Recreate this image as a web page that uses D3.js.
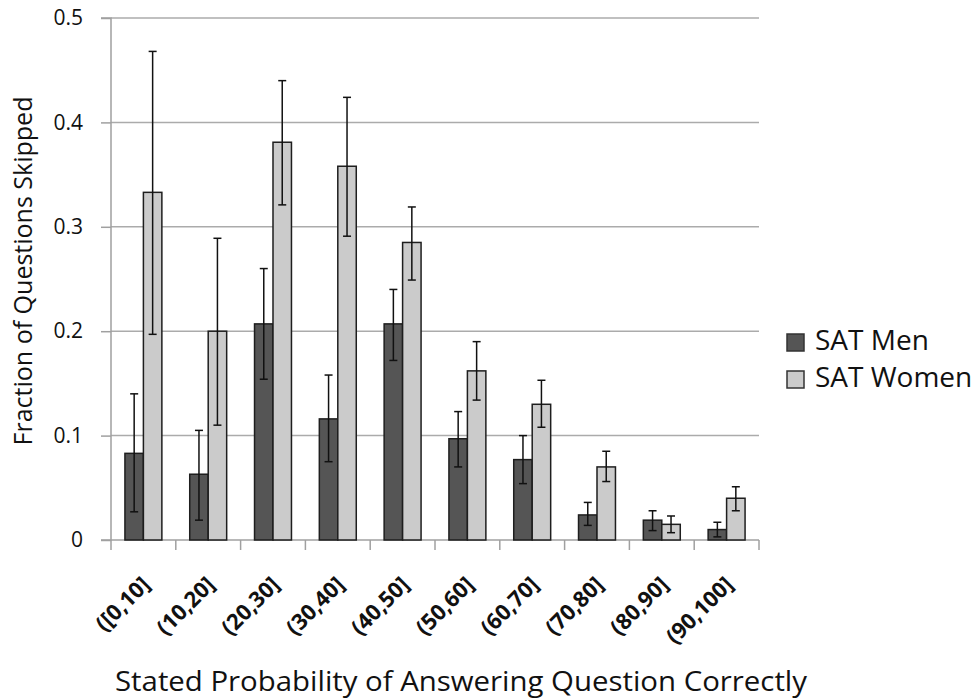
<!DOCTYPE html>
<html>
<head>
<meta charset="utf-8">
<script src="https://cdn.jsdelivr.net/npm/d3@7"></script>
<style>
  body { margin: 0; background: #fff; }
  text { font-family: "Open Sans", sans-serif; fill: #111; }
</style>
</head>
<body>
<script>
let w = 980;
let h = 698;

let categories = ['([0,10]', '(10,20]', '(20,30]', '(30,40]', '(40,50]',
  '(50,60]', '(60,70]', '(70,80]', '(80,90]', '(90,100]'];
let seriesNames = ['SAT Men', 'SAT Women'];
let menValues = [0.083, 0.063, 0.207, 0.116, 0.207, 0.097, 0.077, 0.024, 0.019, 0.010];
let menLow = [0.027, 0.019, 0.154, 0.075, 0.172, 0.070, 0.054, 0.014, 0.009, 0.003];
let menHigh = [0.140, 0.105, 0.260, 0.158, 0.240, 0.123, 0.100, 0.036, 0.028, 0.017];
let womenValues = [0.333, 0.200, 0.381, 0.358, 0.285, 0.162, 0.130, 0.070, 0.015, 0.040];
let womenLow = [0.197, 0.110, 0.321, 0.291, 0.249, 0.134, 0.108, 0.056, 0.007, 0.028];
let womenHigh = [0.468, 0.289, 0.440, 0.424, 0.319, 0.190, 0.153, 0.085, 0.023, 0.051];
let yTicks = [0, 0.1, 0.2, 0.3, 0.4, 0.5];
let colors = ['#555555', '#cbcbcb'];

let plotLeft = 111, plotRight = 759, plotTop = 18, plotBottom = 540;

let rows = categories.map((c, i) => ({
  cat: c,
  vals: [
    { s: 0, v: menValues[i], lo: menLow[i], hi: menHigh[i] },
    { s: 1, v: womenValues[i], lo: womenLow[i], hi: womenHigh[i] }
  ]
}));

let x0 = d3.scaleBand()
  .domain(categories)
  .range([plotLeft, plotRight])
  .paddingInner(0.43)
  .paddingOuter(0.215);

let x1 = d3.scaleBand()
  .domain([0, 1])
  .range([0, x0.bandwidth()]);

let yScale = d3.scaleLinear()
  .domain([0, 0.5])
  .range([plotBottom, plotTop]);

let svg = d3.select('body')
  .append('svg')
  .attr('width', w)
  .attr('height', h);

// gridlines
svg.append('g')
  .selectAll('line')
  .data(yTicks.slice(1))
  .enter()
  .append('line')
  .attr('x1', plotLeft)
  .attr('x2', plotRight)
  .attr('y1', (d) => yScale(d))
  .attr('y2', (d) => yScale(d))
  .attr('stroke', '#ababab')
  .attr('stroke-width', 1.5);

let yAxis = d3.axisLeft(yScale)
  .tickValues(yTicks)
  .tickFormat((d) => d === 0 ? '0' : d3.format('.1f')(d))
  .tickSize(10)
  .tickPadding(18);

let yg = svg.append('g')
  .attr('transform', 'translate(' + plotLeft + ',0)')
  .call(yAxis);
yg.selectAll('line, path').attr('stroke', '#a0a0a0').attr('stroke-width', 1.5);
yg.select('.domain').attr('d', 'M-10,' + plotTop + 'H0V' + plotBottom + 'H-10');
yg.selectAll('text')
  .style('font-size', '21px')
  .attr('fill', '#111');

// x axis with ticks at category boundaries
let boundaries = d3.range(categories.length + 1).map((i) => plotLeft + i * x0.step());
svg.append('line')
  .attr('x1', plotLeft).attr('x2', plotRight)
  .attr('y1', plotBottom).attr('y2', plotBottom)
  .attr('stroke', '#a0a0a0').attr('stroke-width', 1.5);
svg.append('g')
  .selectAll('line')
  .data(boundaries)
  .enter()
  .append('line')
  .attr('x1', (d) => d).attr('x2', (d) => d)
  .attr('y1', plotBottom).attr('y2', plotBottom + 10)
  .attr('stroke', '#a0a0a0').attr('stroke-width', 1.5);

svg.append('g')
  .selectAll('text')
  .data(categories)
  .enter()
  .append('text')
  .attr('transform', (d) => 'translate(' + (x0(d) + x0.bandwidth() / 2 + 8) + ',' + (plotBottom + 46) + ') rotate(-45)')
  .attr('text-anchor', 'end')
  .style('font-size', '22px')
  .style('font-weight', 'bold')
  .text((d) => d);

// bars
let groups = svg.append('g')
  .selectAll('g')
  .data(rows)
  .enter()
  .append('g')
  .attr('transform', (d) => 'translate(' + x0(d.cat) + ',0)');

groups.selectAll('rect')
  .data((d) => d.vals)
  .enter()
  .append('rect')
  .attr('x', (d) => x1(d.s))
  .attr('y', (d) => yScale(d.v))
  .attr('width', x1.bandwidth())
  .attr('height', (d) => yScale(0) - yScale(d.v))
  .attr('fill', (d) => colors[d.s])
  .attr('stroke', '#1e1e1e')
  .attr('stroke-width', 1.5);

// error bars
let err = groups.selectAll('g.err')
  .data((d) => d.vals)
  .enter()
  .append('g')
  .attr('class', 'err')
  .attr('stroke', '#111')
  .attr('stroke-width', 1.5);

err.append('line')
  .attr('x1', (d) => x1(d.s) + x1.bandwidth() / 2)
  .attr('x2', (d) => x1(d.s) + x1.bandwidth() / 2)
  .attr('y1', (d) => yScale(d.lo))
  .attr('y2', (d) => yScale(d.hi));
['lo', 'hi'].forEach((k) => {
  err.append('line')
    .attr('x1', (d) => x1(d.s) + x1.bandwidth() / 2 - 4)
    .attr('x2', (d) => x1(d.s) + x1.bandwidth() / 2 + 4)
    .attr('y1', (d) => yScale(d[k]))
    .attr('y2', (d) => yScale(d[k]));
});

// axis titles
svg.append('text')
  .attr('x', 115)
  .attr('y', 691)
  .attr('textLength', 692)
  .attr('lengthAdjust', 'spacingAndGlyphs')
  .style('font-size', '27px')
  .text('Stated Probability of Answering Question Correctly');

svg.append('text')
  .attr('transform', 'translate(32,271) rotate(-90)')
  .attr('text-anchor', 'middle')
  .style('font-size', '25px')
  .text('Fraction of Questions Skipped');

// legend
let legend = svg.append('g')
  .selectAll('g')
  .data(seriesNames)
  .enter()
  .append('g')
  .attr('transform', (d, i) => 'translate(787,' + (334 + i * 37) + ')');

legend.append('rect')
  .attr('width', 17)
  .attr('height', 17)
  .attr('fill', (d, i) => colors[i])
  .attr('stroke', '#333')
  .attr('stroke-width', 1.5);

legend.append('text')
  .attr('x', 28)
  .attr('y', 16)
  .style('font-size', '28px')
  .text((d) => d);
</script>
</body>
</html>
